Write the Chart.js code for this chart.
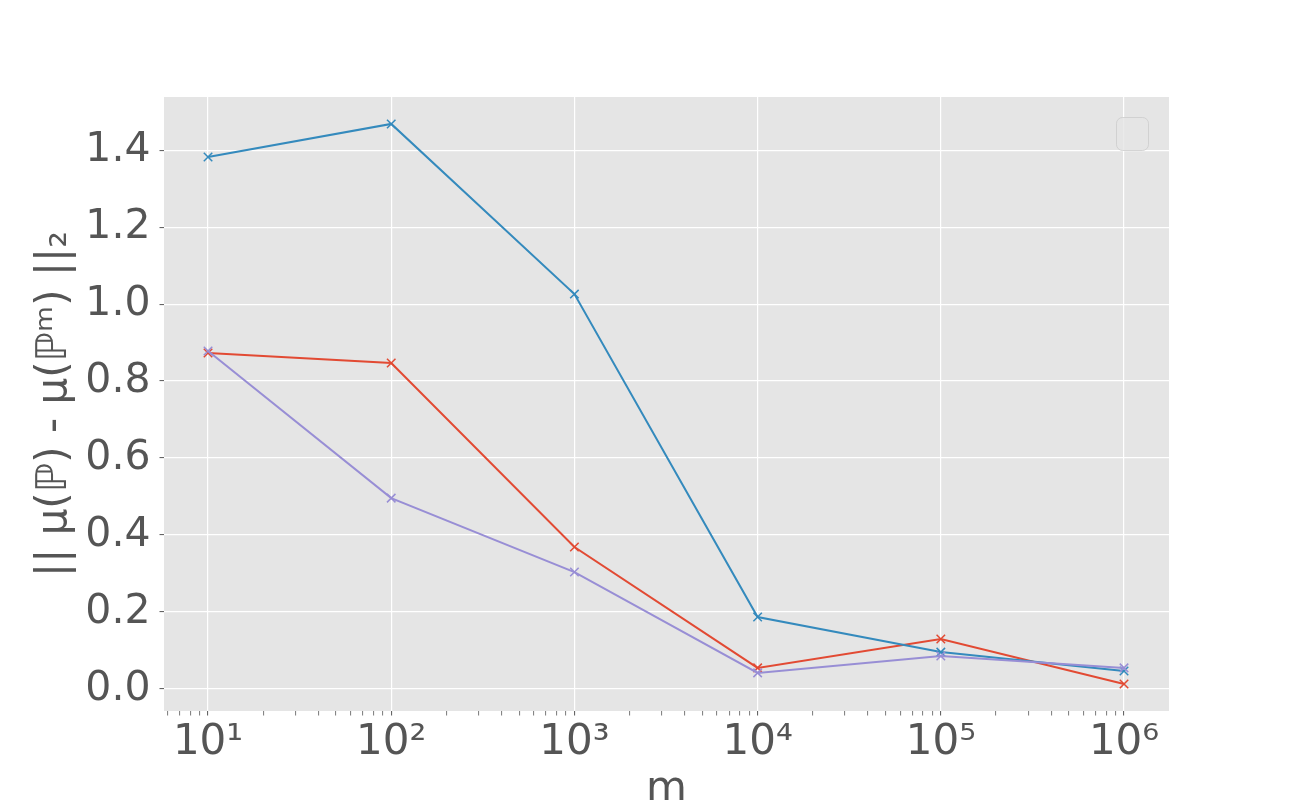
<!DOCTYPE html>
<html lang="en">
<head>
  <meta charset="UTF-8">
  <title>MMD error vs m</title>
  <script src="https://cdn.jsdelivr.net/npm/chart.js"></script>
  <style>
    body {
      margin: 0;
      background: white;
    }
    canvas {
      display: block;
    }
  </style>
</head>
<body>

<canvas id="errorChart" width="1300" height="800"></canvas>

<script>
// sample sizes on the x axis
const mValues = [10, 100, 1000, 10000, 100000, 1000000];

// one series per line
const redValues = [0.873, 0.847, 0.369, 0.055, 0.130, 0.013];
const blueValues = [1.382, 1.468, 1.026, 0.187, 0.096, 0.047];
const purpleValues = [0.878, 0.496, 0.304, 0.042, 0.086, 0.055];

// tick values
const yTicks = [0.0, 0.2, 0.4, 0.6, 0.8, 1.0, 1.2, 1.4];
const xMajorTicks = [10, 100, 1000, 10000, 100000, 1000000];

const sup = {'0': '⁰', '1': '¹', '2': '²', '3': '³', '4': '⁴', '5': '⁵', '6': '⁶', '7': '⁷', '8': '⁸', '9': '⁹'};

function isDecade(v) {
  const e = Math.log10(v);
  return Math.abs(e - Math.round(e)) < 1e-9;
}

function toPoints(values) {
  return mValues.map((m, i) => ({x: m, y: values[i]}));
}

function lineSet(values, color, order) {
  return {
    data: toPoints(values),
    borderColor: color,
    backgroundColor: color,
    borderWidth: 2,
    pointStyle: 'crossRot',
    pointRadius: 6,
    pointHoverRadius: 6,
    pointBorderWidth: 1.5,
    fill: false,
    tension: 0,
    order: order
  };
}

// grey panel behind the plot and the empty legend frame on top
const panelPlugin = {
  id: 'panel',
  beforeDraw(chart) {
    const a = chart.chartArea;
    const ctx = chart.ctx;
    ctx.save();
    ctx.fillStyle = '#E5E5E5';
    ctx.fillRect(a.left, a.top, a.right - a.left, a.bottom - a.top);
    ctx.restore();
  },
  afterDraw(chart) {
    const a = chart.chartArea;
    const ctx = chart.ctx;
    ctx.save();
    ctx.globalAlpha = 0.8;
    ctx.fillStyle = '#E5E5E5';
    ctx.strokeStyle = '#CCCCCC';
    ctx.lineWidth = 1;
    ctx.beginPath();
    ctx.roundRect(a.right - 52.5, a.top + 20.5, 32, 33, 6);
    ctx.fill();
    ctx.stroke();
    ctx.restore();
  }
};

const ctx = document.getElementById('errorChart').getContext('2d');

new Chart(ctx, {
  type: 'line',
  data: {
    datasets: [
      lineSet(redValues, '#E24A33', 3),
      lineSet(blueValues, '#348ABD', 2),
      lineSet(purpleValues, '#988ED5', 1)
    ]
  },
  options: {
    responsive: false,
    animation: false,
    devicePixelRatio: 1,
    layout: {
      padding: {top: 97, right: 131, left: 0, bottom: 0}
    },
    plugins: {
      legend: {display: false},
      tooltip: {enabled: false}
    },
    scales: {
      x: {
        type: 'logarithmic',
        min: 5.75,
        max: 1.76e6,
        border: {display: false},
        grid: {
          color: c => (c.tick && isDecade(c.tick.value)) ? '#FFFFFF' : 'rgba(0,0,0,0)',
          lineWidth: 1.2,
          tickColor: '#555555',
          tickLength: 4.5,
          tickWidth: c => (c.tick && isDecade(c.tick.value)) ? 1 : 0.8
        },
        afterBuildTicks(scale) {
          const ticks = [];
          for (let e = 0; e <= 6; e++) {
            for (let k = 1; k <= 9; k++) {
              const v = k * Math.pow(10, e);
              if (v >= scale.min && v <= scale.max) ticks.push({value: v});
            }
          }
          scale.ticks = ticks;
        },
        afterFit(scale) {
          scale.height = 89;
        },
        ticks: {
          autoSkip: false,
          maxRotation: 0,
          padding: 2,
          color: '#555555',
          font: {family: 'DejaVu Sans', size: 42},
          callback: function(value) {
            if (!xMajorTicks.includes(Math.round(value))) return '';
            const e = String(Math.round(Math.log10(value)));
            return '10' + e.split('').map(d => sup[d]).join('');
          }
        },
        title: {
          display: true,
          text: 'm',
          color: '#555555',
          font: {family: 'DejaVu Sans', size: 42},
          padding: {top: 0, bottom: -15}
        }
      },
      y: {
        min: -0.057,
        max: 1.538,
        border: {display: false},
        grid: {
          color: '#FFFFFF',
          lineWidth: 1.2,
          tickColor: '#555555',
          tickLength: 4.5,
          tickWidth: 1
        },
        afterBuildTicks(scale) {
          scale.ticks = yTicks.map(v => ({value: v}));
        },
        afterFit(scale) {
          scale.width = 164;
        },
        ticks: {
          padding: 9,
          color: '#555555',
          font: {family: 'DejaVu Sans', size: 41},
          callback: value => value.toFixed(1)
        },
        title: {
          display: true,
          text: '|| μ(ℙ) - μ(ℙᵐ) ||₂',
          color: '#555555',
          font: {family: 'DejaVu Sans', size: 42},
          padding: {top: 30, bottom: 0}
        }
      }
    }
  },
  plugins: [panelPlugin]
});
</script>

</body>
</html>
